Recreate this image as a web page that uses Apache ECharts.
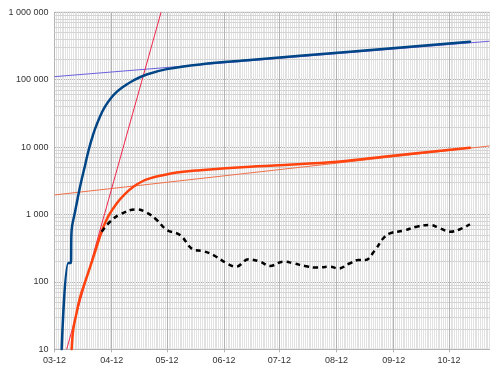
<!DOCTYPE html>
<html><head><meta charset="utf-8">
<script src="https://cdn.jsdelivr.net/npm/echarts@6/dist/echarts.min.js"></script>
<style>html,body{margin:0;padding:0;background:#fff}#c{width:500px;height:374px}</style>
</head><body><div id="c"></div>
<script>
// x = days since 03-12
const tickDays   = [0, 31, 61, 92, 122, 153, 184, 214];
const tickLabels = ['03-12','04-12','05-12','06-12','07-12','08-12','09-12','10-12'];

const casesDays   = [3.9, 7.5, 8.8, 9.3, 11.1, 13.8, 16.6, 18.3, 20.2, 22.0, 24.7, 27.4, 31.0, 33.9, 37.3, 42.8, 50.0, 60.9, 79.0, 106.1, 160.3, 225.4];
const casesValues = [10, 190, 190, 590, 1080, 2540, 5390, 8550, 13100, 18600, 28500, 39800, 54800, 66400, 78700, 97300, 119500, 143600, 168700, 196000, 260000, 366000];

const deathsDays   = [9.3, 10.2, 11.7, 13.8, 16.6, 19.3, 22.0, 25.6, 29.0, 33.8, 38.3, 42.8, 48.0, 51.8, 57.2, 66.3, 79.0, 106.1, 149.5, 178.4, 225.4];
const deathsValues = [10, 20, 32, 58, 100, 166, 278, 560, 920, 1470, 2030, 2590, 3140, 3440, 3750, 4200, 4540, 5120, 5950, 7200, 9800];

const dailyDays   = [25.6, 30.1, 35.5, 44.2, 50.0, 55.5, 60.9, 68.1, 75.3, 80.7, 86.2, 93.4, 98.5, 105.2, 111.5, 116.9, 124.1, 129.6, 135.9, 142.3, 149.5, 154.0, 160.3, 164.8, 168.5, 173.9, 178.4, 182.0, 189.3, 196.5, 203.7, 209.2, 214.6, 220.0, 225.4];
const dailyValues = [556, 780, 1000, 1190, 1070, 830, 590, 496, 302, 286, 250, 189, 168, 216, 200, 172, 200, 189, 172, 163, 168, 158, 189, 211, 211, 297, 444, 525, 575, 660, 700, 623, 556, 605, 716];

const casesTrendDays    = [0, 236];
const casesTrendValues  = [111000, 372000];
const deathsTrendDays   = [0, 236];
const deathsTrendValues = [1950, 10400];
const earlyTrendDays    = [6.6, 57.8];
const earlyTrendValues  = [10, 1000000];

const zip = (a, b) => a.map((v, i) => [v, b[i]]);
const fmt = v => String(Math.round(v)).replace(/\B(?=(\d{3})+(?!\d))/g, ' ');

const minorY = [];
for (let d = 1; d <= 5; d++) for (let k = 2; k <= 9; k++) minorY.push({ yAxis: k * Math.pow(10, d) });
const majorX = tickDays.slice(1).map(d => ({ xAxis: d }));

const chart = echarts.init(document.getElementById('c'));
chart.setOption({
  animation: false,
  grid: { left: 54.5, right: 10.5, top: 12.3, bottom: 24.7, show: true, backgroundColor: '#ffffff', borderColor: '#b3b3b3', borderWidth: 1 },
  xAxis: [{
    type: 'value', min: 0, max: 236,
    axisLine: { show: true, lineStyle: { color: '#b3b3b3' } },
    axisTick: { show: true, length: 3, lineStyle: { color: '#b3b3b3' }, customValues: tickDays },
    axisLabel: { customValues: tickDays, color: '#333', fontSize: 9, fontFamily: 'Liberation Sans', margin: 7,
      formatter: v => { const i = tickDays.indexOf(Math.round(v)); return i >= 0 ? tickLabels[i] : ''; } },
    splitLine: { show: false }
  }, {
    type: 'value', min: 0, max: 236, interval: 1, position: 'bottom',
    axisLine: { show: false }, axisTick: { show: false }, axisLabel: { show: false },
    splitLine: { show: true, lineStyle: { color: '#e2e2e2', width: 1 } }
  }],
  yAxis: {
    type: 'log', logBase: 10, min: 10, max: 1000000,
    axisLine: { show: true, lineStyle: { color: '#b3b3b3' } },
    axisTick: { show: false },
    axisLabel: { color: '#333', fontSize: 9, fontFamily: 'Liberation Sans', margin: 6, formatter: fmt },
    splitLine: { show: true, lineStyle: { color: '#b3b3b3', width: 1 } }
  },
  series: [
    { name: 'grid', type: 'line', data: [], silent: true, z: 1,
      markLine: { silent: true, z: 1, symbol: 'none', label: { show: false }, animation: false,
        data: minorY.map(o => Object.assign(o, { lineStyle: { color: '#d4d4d4', width: 1, type: 'solid' } }))
          .concat(majorX.map(o => Object.assign(o, { lineStyle: { color: '#b3b3b3', width: 1, type: 'solid' } }))) } },
    { name: 'casesTrend', type: 'line', data: zip(casesTrendDays, casesTrendValues), showSymbol: false, z: 3,
      lineStyle: { color: '#6a5fdc', width: 1 } },
    { name: 'deathsTrend', type: 'line', data: zip(deathsTrendDays, deathsTrendValues), showSymbol: false, z: 3,
      lineStyle: { color: '#f0704a', width: 1 } },
    { name: 'earlyTrend', type: 'line', data: zip(earlyTrendDays, earlyTrendValues), showSymbol: false, z: 3,
      lineStyle: { color: '#f0264a', width: 1 } },
    { name: 'cases', type: 'line', data: zip(casesDays, casesValues), showSymbol: false, z: 4,
      smooth: 0.4, lineStyle: { color: '#004586', width: 2.5, join: 'round', cap: 'round' } },
    { name: 'deaths', type: 'line', data: zip(deathsDays, deathsValues), showSymbol: false, z: 4,
      smooth: 0.4, lineStyle: { color: '#ff420e', width: 2.5, join: 'round', cap: 'round' } },
    { name: 'daily', type: 'line', data: zip(dailyDays, dailyValues), showSymbol: false, z: 5,
      smooth: 0.4, lineStyle: { color: '#000000', width: 2.5, type: [5, 4] } }
  ]
});
</script></body></html>
